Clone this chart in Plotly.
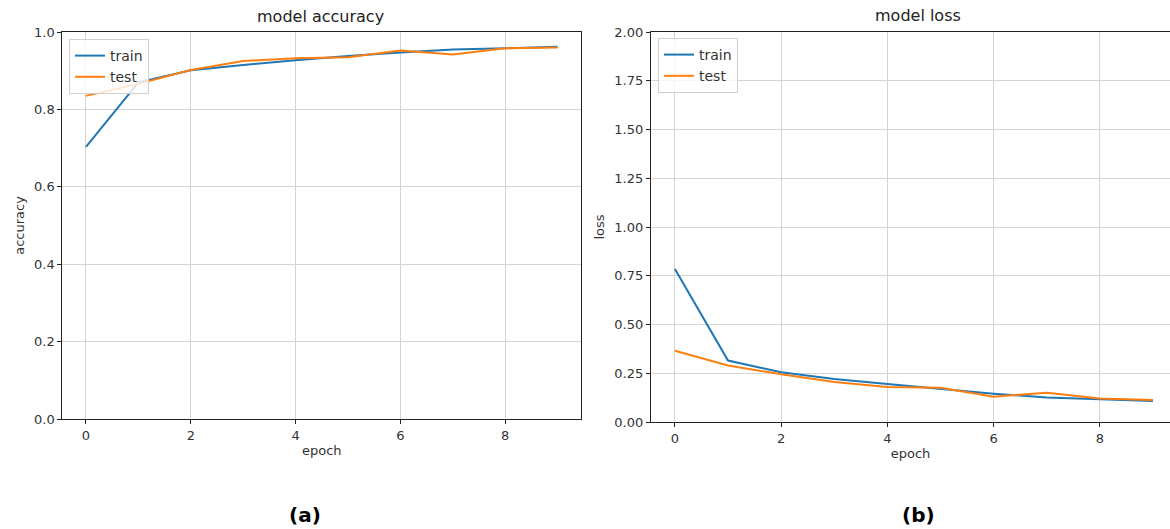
import plotly.graph_objects as go

epochs = [0, 1, 2, 3, 4, 5, 6, 7, 8, 9]
acc_train = [0.703, 0.870, 0.901, 0.915, 0.927, 0.938, 0.947, 0.955, 0.958, 0.962]
acc_test = [0.835, 0.866, 0.902, 0.925, 0.932, 0.935, 0.952, 0.942, 0.958, 0.960]
loss_train = [0.785, 0.315, 0.255, 0.220, 0.195, 0.170, 0.145, 0.125, 0.115, 0.108]
loss_test = [0.365, 0.290, 0.245, 0.205, 0.180, 0.175, 0.130, 0.150, 0.120, 0.113]
acc_ticks = [0.0, 0.2, 0.4, 0.6, 0.8, 1.0]
loss_ticks = [0.0, 0.25, 0.5, 0.75, 1.0, 1.25, 1.5, 1.75, 2.0]
x_ticks = [0, 2, 4, 6, 8]

BLUE = "#1f77b4"
ORANGE = "#ff7f0e"
W, H = 1170, 529
FONT = "DejaVu Sans"

def px(v, total):
    return v / total

fig = go.Figure()
fig.add_trace(go.Scatter(x=epochs, y=acc_train, mode="lines", name="train",
                         line=dict(color=BLUE, width=2), xaxis="x", yaxis="y", legend="legend"))
fig.add_trace(go.Scatter(x=epochs, y=acc_test, mode="lines", name="test",
                         line=dict(color=ORANGE, width=2), xaxis="x", yaxis="y", legend="legend"))
fig.add_trace(go.Scatter(x=epochs, y=loss_train, mode="lines", name="train",
                         line=dict(color=BLUE, width=2), xaxis="x2", yaxis="y2", legend="legend2"))
fig.add_trace(go.Scatter(x=epochs, y=loss_test, mode="lines", name="test",
                         line=dict(color=ORANGE, width=2), xaxis="x2", yaxis="y2", legend="legend2"))

axis_common = dict(showgrid=True, gridcolor="#d3d3d3", gridwidth=1.2, zeroline=False,
                   showline=True, linecolor="#222222", linewidth=1.2, automargin=False,
                   ticks="outside", ticklen=4, tickcolor="#222222",
                   tickfont=dict(family=FONT, size=13, color="#333333"))

L_top = 1 - 32 / H
L_bot = 1 - 419 / H
R_bot = 1 - 422 / H

legend_common = dict(xanchor="left", yanchor="top",
                     bgcolor="rgba(255,255,255,0.8)", bordercolor="#d0d0d0", borderwidth=1,
                     font=dict(family=FONT, size=14, color="#333333"), itemwidth=30,
                     tracegroupgap=0)

fig.update_layout(
    width=W, height=H,
    margin=dict(l=0, r=0, t=0, b=0, autoexpand=False),
    paper_bgcolor="white", plot_bgcolor="white",
    font=dict(family=FONT, size=13, color="#333333"),
    xaxis=dict(domain=[px(62.4, W), px(581.2, W)], range=[-0.45, 9.45], tickvals=x_ticks,
               mirror=True, anchor="y",
               title=dict(text="epoch", font=dict(size=13), standoff=4), **axis_common),
    yaxis=dict(domain=[L_bot, L_top], range=[0, 1.0], tickvals=acc_ticks,
               ticktext=[f"{v:.1f}" for v in acc_ticks], mirror=True, anchor="x",
               title=dict(text="accuracy", font=dict(size=13), standoff=6), **axis_common),
    xaxis2=dict(domain=[px(651, W), 1.0], range=[-0.45, 9.32], tickvals=x_ticks,
                mirror=True, anchor="y2",
                title=dict(text="epoch", font=dict(size=13), standoff=4), **axis_common),
    yaxis2=dict(domain=[R_bot, L_top], range=[0, 2.0], tickvals=loss_ticks,
                ticktext=[f"{v:.2f}" for v in loss_ticks], anchor="x2",
                title=dict(text="loss", font=dict(size=13), standoff=6), **axis_common),
    legend=dict(x=px(69, W), y=1 - 39 / H, **legend_common),
    legend2=dict(x=px(658, W), y=1 - 38 / H, **legend_common),
    showlegend=True,
    annotations=[
        dict(text="model accuracy", x=px(320, W), y=1 - 17 / H, xref="paper", yref="paper",
             xanchor="center", yanchor="middle", showarrow=False,
             font=dict(family=FONT, size=16, color="#222222")),
        dict(text="model loss", x=px(918, W), y=1 - 15 / H, xref="paper", yref="paper",
             xanchor="center", yanchor="middle", showarrow=False,
             font=dict(family=FONT, size=16, color="#222222")),
        dict(text="<b>(a)</b>", x=px(305, W), y=1 - 515 / H, xref="paper", yref="paper",
             xanchor="center", yanchor="middle", showarrow=False,
             font=dict(family=FONT, size=20, color="#000000")),
        dict(text="<b>(b)</b>", x=px(918, W), y=1 - 515 / H, xref="paper", yref="paper",
             xanchor="center", yanchor="middle", showarrow=False,
             font=dict(family=FONT, size=20, color="#000000")),
    ],
)

fig.write_html("out.html", config={"displayModeBar": False})
with open("out.html", "r", encoding="utf-8") as f:
    html = f.read()
html = html.replace("<head>", "<head><style>html,body{margin:0;padding:0;overflow:hidden;}</style>", 1)
with open("out.html", "w", encoding="utf-8") as f:
    f.write(html)
